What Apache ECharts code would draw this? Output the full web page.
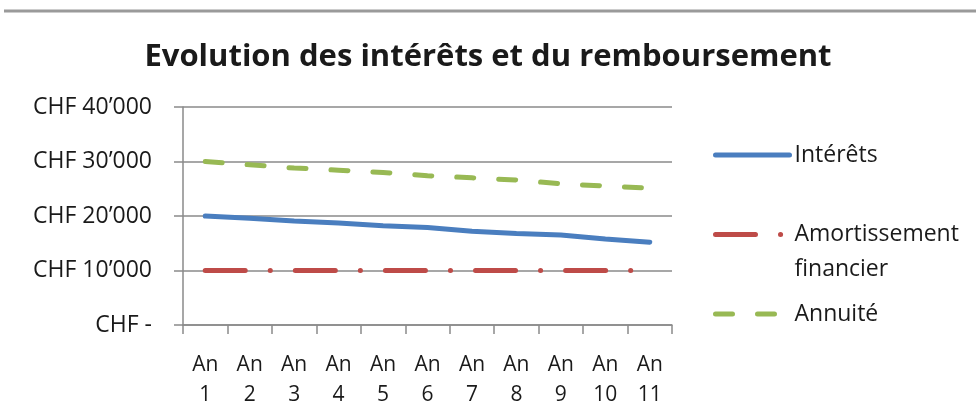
<!DOCTYPE html>
<html>
<head>
<meta charset="utf-8">
<script src="https://cdn.jsdelivr.net/npm/echarts@6/dist/echarts.min.js"></script>
<style>
html,body{margin:0;padding:0;background:#fff;}
#chart{width:976px;height:418px;}
</style>
</head>
<body>
<div id="chart"></div>
<script>
const titleText = 'Evolution des intérêts et du remboursement';
const categories = ['An\n1','An\n2','An\n3','An\n4','An\n5','An\n6','An\n7','An\n8','An\n9','An\n10','An\n11'];
const seriesNames = ['Intérêts', 'Amortissement financier', 'Annuité'];
const interets = [20000, 19600, 19100, 18700, 18200, 17900, 17200, 16800, 16500, 15800, 15200];
const amortissement = [10000, 10000, 10000, 10000, 10000, 10000, 10000, 10000, 10000, 10000, 10000];
const annuite = [30000, 29400, 28800, 28400, 28000, 27400, 27000, 26600, 25900, 25500, 25100];
const yTickLabels = {0: 'CHF -', 10000: 'CHF 10’000', 20000: 'CHF 20’000', 30000: 'CHF 30’000', 40000: 'CHF 40’000'};

const FONT = 'Open Sans';
const TXT = '#1a1a1a';
const chart = echarts.init(document.getElementById('chart'), null, {renderer: 'canvas'});

function legendCfg(name, top, extra) {
  return Object.assign({
    data: [name],
    orient: 'vertical',
    left: 713,
    top: top,
    padding: 0,
    itemWidth: 74,
    itemHeight: 14,
    selectedMode: false,
    lineStyle: {width: 5},
    itemStyle: {opacity: 0},
    textStyle: {fontFamily: FONT, fontSize: 23, color: TXT, lineHeight: 28}
  }, extra || {});
}

chart.setOption({
  animation: false,
  backgroundColor: '#fff',
  graphic: [{
    type: 'line',
    shape: {x1: 4, y1: 11, x2: 976, y2: 11},
    style: {stroke: '#9a9a9a', lineWidth: 3}
  }],
  title: {
    text: titleText,
    left: 'center',
    top: 42,
    padding: 0,
    textStyle: {fontFamily: FONT, fontWeight: 'bold', fontSize: 31, color: TXT}
  },
  legend: [
    legendCfg(seriesNames[0], 141),
    legendCfg(seriesNames[1], 182, {
      formatter: function () { return '\u200b\nAmortissement\nfinancier'; },
      textStyle: {fontFamily: FONT, fontSize: 23, color: TXT, lineHeight: 35}
    }),
    legendCfg(seriesNames[2], 300)
  ],
  grid: {left: 183, right: 304, top: 107, bottom: 93},
  xAxis: {
    type: 'category',
    data: categories,
    boundaryGap: true,
    axisLine: {lineStyle: {color: '#8a8a8a', width: 1.5}},
    axisTick: {show: true, length: 9, inside: false, lineStyle: {color: '#8a8a8a', width: 1.5}},
    axisLabel: {fontFamily: FONT, fontSize: 21, color: TXT, lineHeight: 30, margin: 25, interval: 0}
  },
  yAxis: {
    type: 'value',
    min: 0,
    max: 40000,
    interval: 10000,
    axisLine: {show: true, lineStyle: {color: '#8a8a8a', width: 1.5}},
    axisTick: {show: true, length: 9, lineStyle: {color: '#8a8a8a', width: 1.5}},
    splitLine: {show: true, lineStyle: {color: '#8a8a8a', width: 1.5}},
    axisLabel: {
      fontFamily: FONT, fontSize: 23, color: TXT, margin: 31,
      formatter: function (v) { return yTickLabels[v] !== undefined ? yTickLabels[v] : ''; }
    }
  },
  series: [
    {
      name: seriesNames[0], type: 'line', data: interets, symbol: 'none', smooth: false,
      lineStyle: {color: '#4a7ebf', width: 5, cap: 'round'}, itemStyle: {color: '#4a7ebf'}
    },
    {
      name: seriesNames[1], type: 'line', data: amortissement, symbol: 'none',
      lineStyle: {color: '#be4b48', width: 5, cap: 'round', type: [40, 25, 0.1, 25]}, itemStyle: {color: '#be4b48'}
    },
    {
      name: seriesNames[2], type: 'line', data: annuite, symbol: 'none',
      lineStyle: {color: '#98b954', width: 5, cap: 'round', type: [17, 25]}, itemStyle: {color: '#98b954'}
    }
  ]
});
</script>
</body>
</html>
